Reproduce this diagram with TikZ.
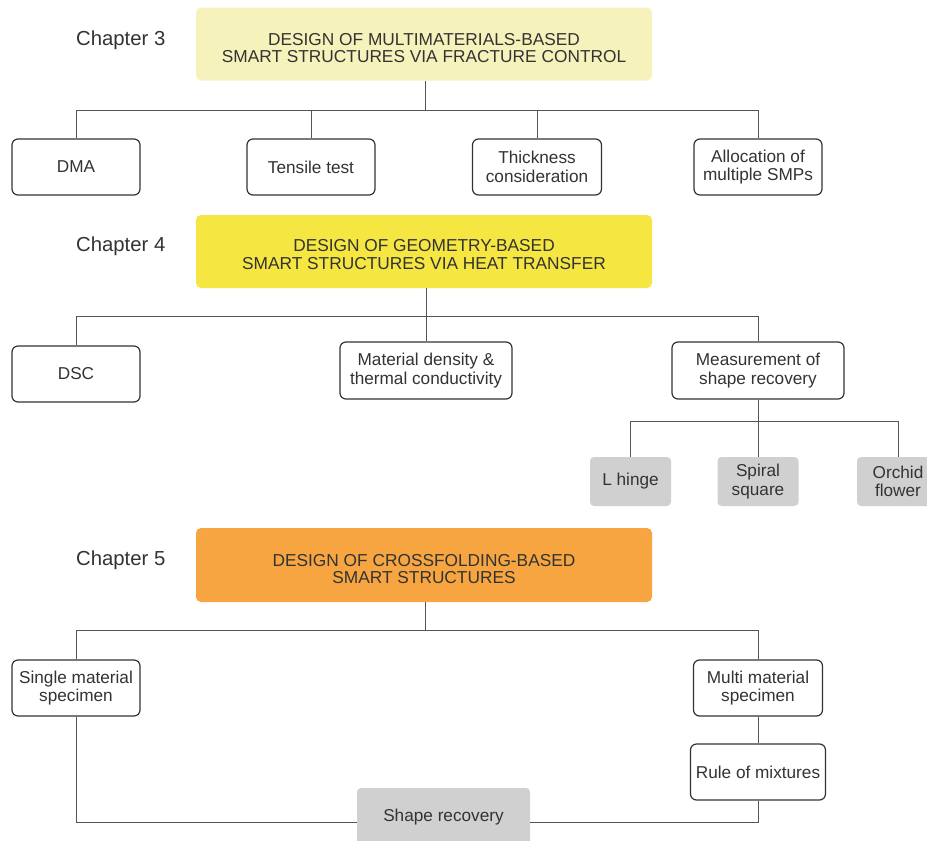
\documentclass[tikz,border=0pt]{standalone}
\usepackage{fontspec}
\setmainfont{Liberation Sans}
\definecolor{txt}{HTML}{333333}
\definecolor{edge}{HTML}{333333}
\definecolor{linec}{HTML}{555555}
\definecolor{chA}{HTML}{F6F2BC}
\definecolor{chB}{HTML}{F5E642}
\definecolor{chC}{HTML}{F7A540}
\definecolor{gbox}{HTML}{D0D0D0}
\begin{document}
\begin{tikzpicture}[x=1pt,y=-1pt,
  chap/.style={fill=#1, rounded corners=5pt, minimum width=456pt, minimum height=73pt, inner sep=0pt},
  chtitle/.style={align=center, font=\fontsize{17.3}{17.8}\selectfont, text=txt, inner sep=0pt},
  item/.style={draw=edge, line width=1.2pt, rounded corners=6pt, fill=white, align=center,
    font=\fontsize{17.2}{18.5}\selectfont, text=txt, inner sep=0pt, minimum height=56pt},
  greybox/.style={fill=gbox, rounded corners=4pt, align=center,
    font=\fontsize{17.2}{18.5}\selectfont, text=txt, inner sep=0pt, minimum height=49pt},
  chlabel/.style={anchor=base west, font=\fontsize{20.3}{22}\selectfont, text=txt, inner sep=0pt},
  conn/.style={draw=linec, line width=1pt}]
\useasboundingbox (0,0) rectangle (927,841);
\fill[white] (0,0) rectangle (927,841);
\clip (0,0) rectangle (927,841);

% Chapter 3
\node[chlabel] (l3) at (76,45) {Chapter 3};
\node[chap=chA] (c3) at (424,44) {};
\node[chtitle] (t3) at ([yshift=-4pt]c3.center) {DESIGN OF MULTIMATERIALS-BASED\\SMART STRUCTURES VIA FRACTURE CONTROL};
\node[item, minimum width=128pt] (dma) at (76,167) {DMA};
\node[item, minimum width=128pt] (ten) at (311,167) {Tensile test};
\node[item, minimum width=129pt] (thk) at (537,167) {Thickness\\consideration};
\node[item, minimum width=128pt] (alc) at (758,167) {Allocation of\\multiple SMPs};
\coordinate (j3) at (425,110);
\draw[conn] (c3.south -| j3) -- (j3);
\draw[conn] (dma.north) -- (dma.north |- j3) -- (alc.north |- j3) -- (alc.north);
\draw[conn] (ten.north) -- (ten.north |- j3);
\draw[conn] (thk.north) -- (thk.north |- j3);

% Chapter 4
\node[chlabel] (l4) at (76,251.5) {Chapter 4};
\node[chap=chB] (c4) at (424,251.5) {};
\node[chtitle] (t4) at ([yshift=-3pt]c4.center) {DESIGN OF GEOMETRY-BASED\\SMART STRUCTURES VIA HEAT TRANSFER};
\node[item, minimum width=128pt] (dsc) at (76,374) {DSC};
\node[item, minimum width=172pt, minimum height=57pt] (mat) at (426,370.5) {Material density \&\\thermal conductivity};
\node[item, minimum width=172pt, minimum height=57pt] (mea) at (758,370.5) {Measurement of\\shape recovery};
\coordinate (j4) at (426,316);
\draw[conn] (c4.south -| mat.north) -- (mat.north);
\draw[conn] (dsc.north) -- (dsc.north |- j4) -- (mea.north |- j4) -- (mea.north);
\node[greybox, minimum width=81pt] (lh) at (630.5,481.5) {L hinge};
\node[greybox, minimum width=81pt] (sp) at (758,481.5) {Spiral\\square};
\node[greybox, minimum width=82pt] (or) at (898,481.5) {Orchid\\flower};
\coordinate (jm) at (758,421);
\draw[conn] (mea.south) -- (sp.north);
\draw[conn] (lh.north) -- (lh.north |- jm) -- (or.north |- jm) -- (or.north);

% Chapter 5
\node[chlabel] (l5) at (76,565) {Chapter 5};
\node[chap=chC, minimum height=74pt] (c5) at (424,565) {};
\node[chtitle] (t5) at ([yshift=-4pt]c5.center) {DESIGN OF CROSSFOLDING-BASED\\SMART STRUCTURES};
\node[item, minimum width=128pt] (sgl) at (76,688) {Single material\\specimen};
\node[item, minimum width=129pt] (mlt) at (758,688) {Multi material\\specimen};
\node[item, minimum width=135pt] (rom) at (758,772) {Rule of mixtures};
\node[greybox, minimum width=173pt, minimum height=58pt] (sr) at (443.5,817) {Shape recovery};
\coordinate (j5) at (425,630);
\draw[conn] (c5.south -| j5) -- (j5);
\draw[conn] (sgl.north) -- (sgl.north |- j5) -- (mlt.north |- j5) -- (mlt.north);
\draw[conn] (mlt.south) -- (rom.north);
\draw[conn] (sgl.south) |- ([yshift=-5pt]sr.west);
\draw[conn] (rom.south) |- ([yshift=-5pt]sr.east);
\end{tikzpicture}
\end{document}
